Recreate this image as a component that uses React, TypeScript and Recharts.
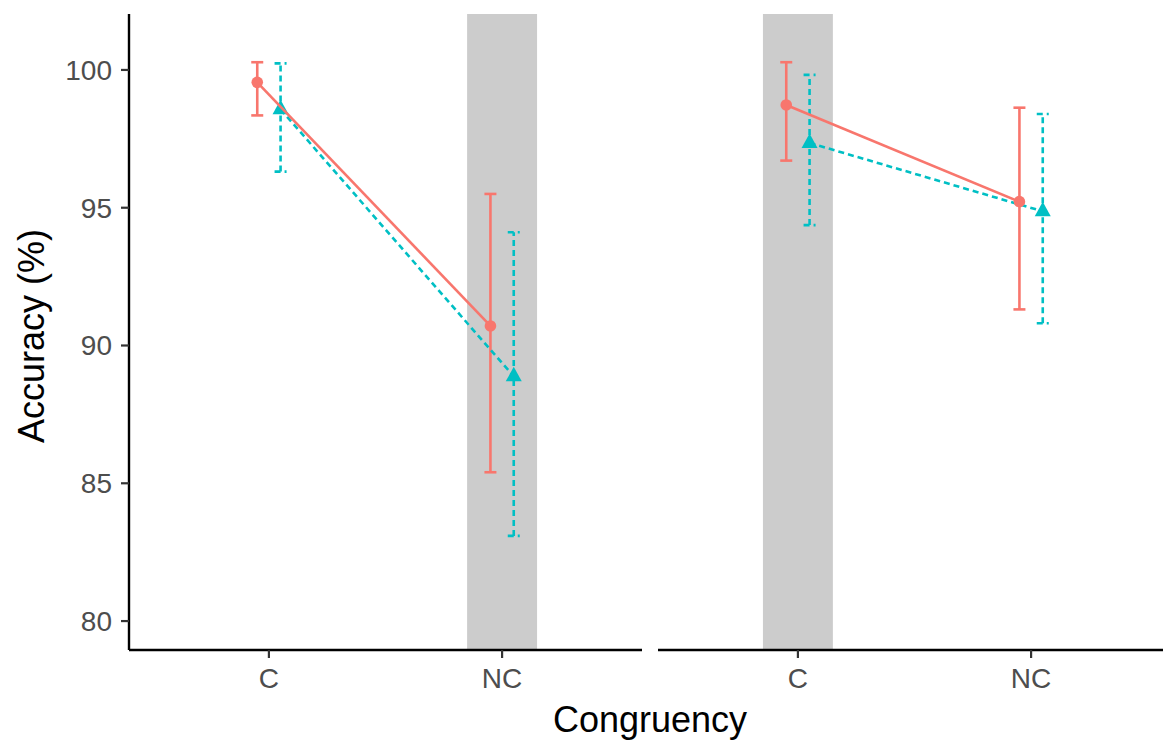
import React from 'react';
import {
  ComposedChart,
  Scatter,
  ErrorBar,
  XAxis,
  YAxis,
  ReferenceArea,
} from 'recharts';

// Categories on the x axis and the y ticks
const categories = ['C', 'NC'];
const yTicks = [80, 85, 90, 95, 100];

// Left panel
const leftRedMean = [99.55, 90.71];
const leftRedLow = [98.35, 85.4];
const leftRedHigh = [100.28, 95.5];
const leftTealMean = [98.57, 88.88];
const leftTealLow = [96.31, 83.09];
const leftTealHigh = [100.24, 94.11];

// Right panel
const rightRedMean = [98.73, 95.22];
const rightRedLow = [96.71, 91.31];
const rightRedHigh = [100.28, 98.63];
const rightTealMean = [97.35, 94.87];
const rightTealLow = [94.37, 90.81];
const rightTealHigh = [99.82, 98.4];

const RED = '#F8766D';
const TEAL = '#00BFC4';
const SHADE = '#CCCCCC';
const FONT = '"Liberation Sans", Arial, Helvetica, sans-serif';
const DODGE = 0.05;
const LW = 2.6;

// make sure the stroke widths win over any library defaults
const css = `
.chart .recharts-errorBar line { stroke-width: ${LW}px; }
.chart .recharts-scatter-line path { stroke-width: ${LW}px; }
.chart .recharts-cartesian-axis-line { stroke-width: 2.4px; stroke: #000; }
.chart .recharts-cartesian-axis-tick-line { stroke-width: 2.2px; stroke: #333; }
`;

function buildSeries(mean: number[], low: number[], high: number[], offset: number) {
  return mean.map((m, i) => ({
    x: i + 1 + offset,
    y: m,
    err: [m - low[i], high[i] - m],
  }));
}

const Circle = (props: any) => <circle cx={props.cx} cy={props.cy} r={5.8} fill={RED} />;

const Triangle = (props: any) => {
  const { cx, cy } = props;
  const pts = `${cx},${cy - 9.5} ${cx - 8},${cy + 5} ${cx + 8},${cy + 5}`;
  return <polygon points={pts} fill={TEAL} />;
};

interface PanelProps {
  red: { x: number; y: number; err: number[] }[];
  teal: { x: number; y: number; err: number[] }[];
  shadeAt: number;
  showY: boolean;
  width: number;
}

function Panel({ red, teal, shadeAt, showY, width }: PanelProps) {
  return (
    <ComposedChart width={width} height={744} margin={{ top: 14, right: 0, bottom: 0, left: 0 }}>
      <XAxis
        type="number"
        dataKey="x"
        domain={[0.4, 2.6]}
        ticks={[1, 2]}
        allowDataOverflow
        tickFormatter={(v: number) => categories[Math.round(v) - 1]}
        height={94}
        axisLine={{ stroke: '#000', strokeWidth: 2.4 }}
        tickLine={{ stroke: '#333', strokeWidth: 2.2 }}
        tickSize={8}
        tickMargin={10}
        tick={{ fill: '#4D4D4D', fontSize: 28, fontFamily: FONT }}
      />
      <YAxis
        type="number"
        dataKey="y"
        domain={[78.95, 102.03]}
        ticks={yTicks}
        allowDataOverflow
        hide={!showY}
        width={129}
        axisLine={{ stroke: '#000', strokeWidth: 2.4 }}
        tickLine={{ stroke: '#333', strokeWidth: 2.2 }}
        tickSize={8}
        tickMargin={9}
        tick={{ fill: '#4D4D4D', fontSize: 28, fontFamily: FONT }}
      />
      <ReferenceArea x1={shadeAt - 0.15} x2={shadeAt + 0.15} fill={SHADE} fillOpacity={1} stroke="none" />
      <Scatter
        data={teal}
        dataKey="y"
        isAnimationActive={false}
        line={{ stroke: TEAL, strokeWidth: LW, strokeDasharray: '6 4' }}
        shape={Triangle}
      >
        <ErrorBar dataKey="err" direction="y" width={6} stroke={TEAL} strokeWidth={LW} strokeDasharray="6 4" />
      </Scatter>
      <Scatter
        data={red}
        dataKey="y"
        isAnimationActive={false}
        line={{ stroke: RED, strokeWidth: LW }}
        shape={Circle}
      >
        <ErrorBar dataKey="err" direction="y" width={6} stroke={RED} strokeWidth={LW} />
      </Scatter>
    </ComposedChart>
  );
}

export default function App() {
  const leftRed = buildSeries(leftRedMean, leftRedLow, leftRedHigh, -DODGE);
  const leftTeal = buildSeries(leftTealMean, leftTealLow, leftTealHigh, DODGE);
  const rightRed = buildSeries(rightRedMean, rightRedLow, rightRedHigh, -DODGE);
  const rightTeal = buildSeries(rightTealMean, rightTealLow, rightTealHigh, DODGE);

  return (
    <div
      className="chart"
      style={{
        position: 'absolute',
        left: 0,
        top: 0,
        width: 1163,
        height: 744,
        overflow: 'hidden',
        background: '#fff',
        fontFamily: FONT,
      }}
    >
      <style>{css}</style>
      <div style={{ position: 'absolute', left: 0, top: 0 }}>
        <Panel red={leftRed} teal={leftTeal} shadeAt={2} showY width={642} />
      </div>
      <div style={{ position: 'absolute', left: 658, top: 0 }}>
        <Panel red={rightRed} teal={rightTeal} shadeAt={1} showY={false} width={513} />
      </div>
      <svg width={1163} height={744} style={{ position: 'absolute', left: 0, top: 0, pointerEvents: 'none' }}>
        <text x={650} y={732} textAnchor="middle" fontSize={36} fill="#000" fontFamily={FONT}>
          Congruency
        </text>
        <text
          x={44}
          y={336}
          textAnchor="middle"
          fontSize={36}
          fill="#000"
          fontFamily={FONT}
          transform="rotate(-90 44 336)"
        >
          Accuracy (%)
        </text>
      </svg>
    </div>
  );
}
